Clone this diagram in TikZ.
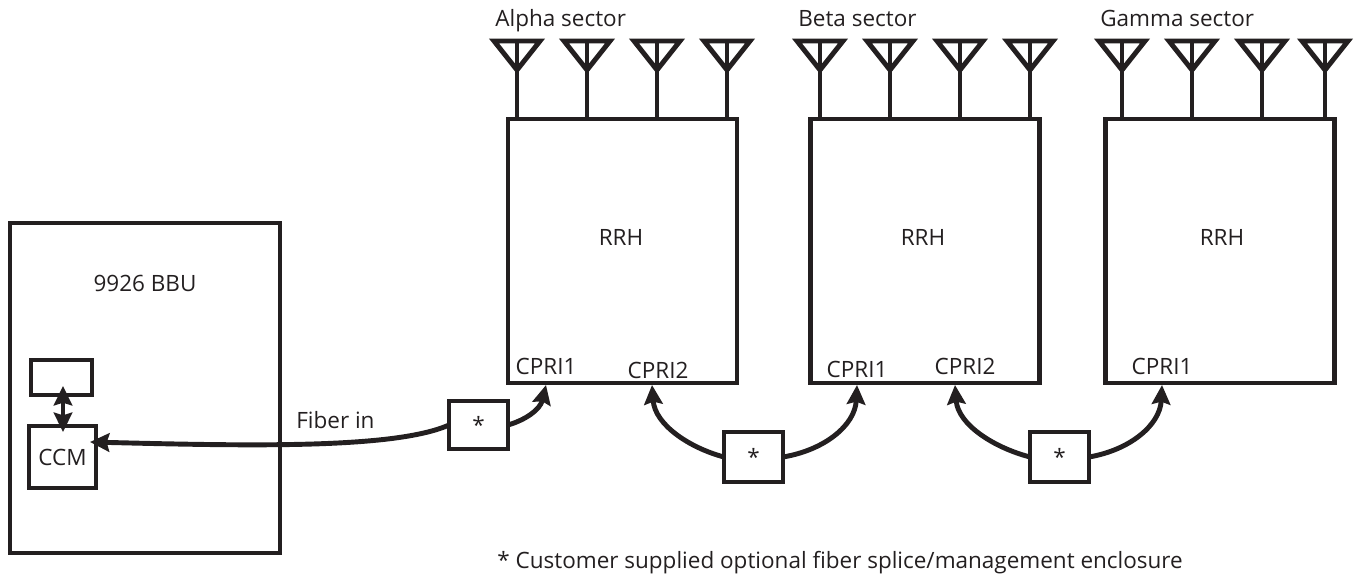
\documentclass[tikz,border=0pt]{standalone}
\usepackage{fontspec}
\setmainfont{Open Sans}
\usetikzlibrary{arrows.meta}
\definecolor{inkc}{HTML}{231F20}
\tikzset{
  unitbox/.style={draw=inkc,line width=2.7pt,inner sep=0pt,outer sep=0pt},
  lbl/.style={text=inkc,font=\fontsize{12.8}{14}\selectfont,inner sep=0pt},
  fiber/.style={draw=inkc,line width=2.8pt},
  tip/.style={-{Stealth[length=11pt,width=10.5pt,inset=1.5pt]}}
}
\begin{document}
\begin{tikzpicture}[x=0.02cm,y=-0.02cm]
\useasboundingbox (0,0) rectangle (1354,577);

% radio heads
\foreach \name/\cx in {alpha/622.5,beta/925,gamma/1220}
\node[unitbox,minimum width=4.58cm,minimum height=5.28cm] (\name) at (\cx,251) {};

\foreach \name/\cx in {alpha/621,beta/923,gamma/1222}
\node[lbl] (rrh\name) at (\cx,237) {RRH};

% antennas
\foreach \cx in {517,587,657,727,820,890,960,1030,1122,1192,1262,1325}
{
\draw[draw=inkc,line width=2.8pt,miter limit=10] (\cx-23,41) -- (\cx+23,41) -- (\cx,70) -- cycle;
\draw[draw=inkc,line width=2.8pt] (\cx,41) -- (\cx,119);
}

\node[lbl,anchor=base west] (alphatext) at (495,27) {Alpha sector};
\node[lbl,anchor=base west] (betatext) at (798,27) {Beta sector};
\node[lbl,anchor=base west] (gammatext) at (1100,27) {Gamma sector};

% bbu
\node[unitbox,minimum width=5.4cm,minimum height=6.6cm] (bbu) at (145,388) {};
\node[lbl] (bbutext) at (145,283) {9926 BBU};
\node[unitbox,minimum width=1.22cm,minimum height=0.7cm] (shelf) at (61.5,377.5) {};
\node[unitbox,minimum width=1.34cm,minimum height=1.24cm,lbl] (ccm) at (62.5,457) {CCM};

% splice enclosures
\node[unitbox,minimum width=1.18cm,minimum height=0.96cm,lbl] (spliceone) at (478.5,425) {*};
\node[unitbox,minimum width=1.18cm,minimum height=1cm,lbl] (splicetwo) at (753.5,457) {*};
\node[unitbox,minimum width=1.18cm,minimum height=1cm,lbl] (splicethree) at (1059.5,457) {*};

% ports
\foreach \name/\cx/\cy/\ptext in {aone/546/366/CPRI1,atwo/658/370/CPRI2,bone/857/369/CPRI1,btwo/965/366/CPRI2,gone/1162/366/CPRI1}
\node[lbl] (\name) at (\cx,\cy) {\ptext};

\coordinate (portaone) at (546,385);
\coordinate (portatwo) at (652,385);
\coordinate (portbone) at (857,385);
\coordinate (portbtwo) at (955,385);
\coordinate (portgone) at (1162,385);
\coordinate (portccm) at (90,442);
\coordinate (portshelf) at (63,386);
\coordinate (portccmtop) at (63,432);

% fibers
\draw[fiber,tip] (spliceone.west) .. controls (395,449) and (250,446) .. (portccm);
\draw[fiber,tip] (spliceone.east) .. controls (525,420) and (540,410) .. (portaone);
\draw[fiber,tip] (splicetwo.west) .. controls (690,448) and (655,425) .. (portatwo);
\draw[fiber,tip] (splicetwo.east) .. controls (825,450) and (855,425) .. (portbone);
\draw[fiber,tip] (splicethree.west) .. controls (995,448) and (958,425) .. (portbtwo);
\draw[fiber,tip] (splicethree.east) .. controls (1130,450) and (1160,425) .. (portgone);
\draw[fiber,{Stealth[length=11pt,width=10.5pt,inset=1.5pt]}-{Stealth[length=11pt,width=10.5pt,inset=1.5pt]}] (portshelf) -- (portccmtop);

\node[lbl,anchor=base west] (fibertext) at (296,428) {Fiber in};
\node[lbl,anchor=base west] (notetext) at (497,568) {* Customer supplied optional fiber splice/management enclosure};
\end{tikzpicture}
\end{document}
